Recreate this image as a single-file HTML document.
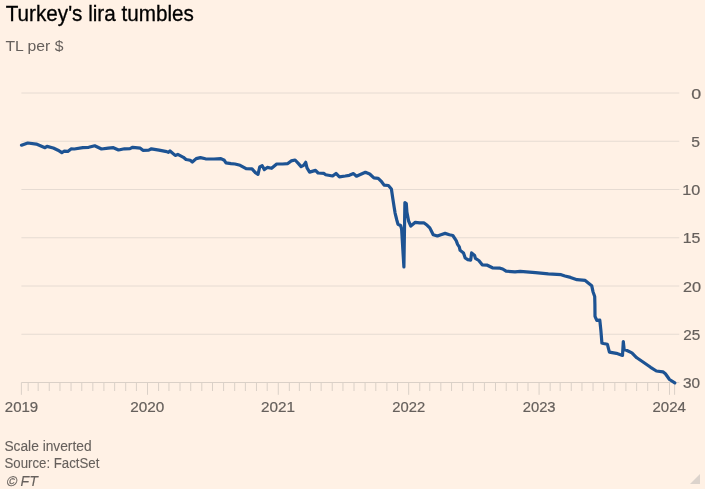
<!DOCTYPE html>
<html><head><meta charset="utf-8"><style>
html,body{margin:0;padding:0;background:#fff1e5;}
body{width:705px;height:489px;overflow:hidden;position:relative;}
svg{position:absolute;left:0;top:0;will-change:transform;}
text{font-family:"Liberation Sans",sans-serif;}
</style></head><body>
<svg width="705" height="489" viewBox="0 0 705 489">
<rect width="705" height="489" fill="#fff1e5"/>
<g stroke="#e6dbd2" stroke-width="1" fill="none"><line x1="21.4" y1="93.00" x2="679.3" y2="93.00"/><line x1="21.4" y1="141.25" x2="679.3" y2="141.25"/><line x1="21.4" y1="189.50" x2="679.3" y2="189.50"/><line x1="21.4" y1="237.75" x2="679.3" y2="237.75"/><line x1="21.4" y1="286.00" x2="679.3" y2="286.00"/><line x1="21.4" y1="334.25" x2="679.3" y2="334.25"/></g>
<g stroke="#dad0c7" stroke-width="1" fill="none"><line x1="21.4" y1="382.5" x2="679.3" y2="382.5"/><line x1="28.17" y1="382.5" x2="28.17" y2="391.0"/><line x1="38.17" y1="382.5" x2="38.17" y2="391.0"/><line x1="49.25" y1="382.5" x2="49.25" y2="391.0"/><line x1="59.96" y1="382.5" x2="59.96" y2="391.0"/><line x1="71.04" y1="382.5" x2="71.04" y2="391.0"/><line x1="81.76" y1="382.5" x2="81.76" y2="391.0"/><line x1="92.83" y1="382.5" x2="92.83" y2="391.0"/><line x1="103.91" y1="382.5" x2="103.91" y2="391.0"/><line x1="114.63" y1="382.5" x2="114.63" y2="391.0"/><line x1="125.71" y1="382.5" x2="125.71" y2="391.0"/><line x1="136.42" y1="382.5" x2="136.42" y2="391.0"/><line x1="147.50" y1="382.5" x2="147.50" y2="394.8"/><line x1="158.58" y1="382.5" x2="158.58" y2="391.0"/><line x1="168.94" y1="382.5" x2="168.94" y2="391.0"/><line x1="180.01" y1="382.5" x2="180.01" y2="391.0"/><line x1="190.73" y1="382.5" x2="190.73" y2="391.0"/><line x1="201.81" y1="382.5" x2="201.81" y2="391.0"/><line x1="212.53" y1="382.5" x2="212.53" y2="391.0"/><line x1="223.60" y1="382.5" x2="223.60" y2="391.0"/><line x1="234.68" y1="382.5" x2="234.68" y2="391.0"/><line x1="245.40" y1="382.5" x2="245.40" y2="391.0"/><line x1="256.47" y1="382.5" x2="256.47" y2="391.0"/><line x1="267.19" y1="382.5" x2="267.19" y2="391.0"/><line x1="278.27" y1="382.5" x2="278.27" y2="394.8"/><line x1="289.34" y1="382.5" x2="289.34" y2="391.0"/><line x1="299.35" y1="382.5" x2="299.35" y2="391.0"/><line x1="310.42" y1="382.5" x2="310.42" y2="391.0"/><line x1="321.14" y1="382.5" x2="321.14" y2="391.0"/><line x1="332.22" y1="382.5" x2="332.22" y2="391.0"/><line x1="342.94" y1="382.5" x2="342.94" y2="391.0"/><line x1="354.01" y1="382.5" x2="354.01" y2="391.0"/><line x1="365.09" y1="382.5" x2="365.09" y2="391.0"/><line x1="375.81" y1="382.5" x2="375.81" y2="391.0"/><line x1="386.88" y1="382.5" x2="386.88" y2="391.0"/><line x1="397.60" y1="382.5" x2="397.60" y2="391.0"/><line x1="408.68" y1="382.5" x2="408.68" y2="394.8"/><line x1="419.75" y1="382.5" x2="419.75" y2="391.0"/><line x1="429.76" y1="382.5" x2="429.76" y2="391.0"/><line x1="440.83" y1="382.5" x2="440.83" y2="391.0"/><line x1="451.55" y1="382.5" x2="451.55" y2="391.0"/><line x1="462.63" y1="382.5" x2="462.63" y2="391.0"/><line x1="473.35" y1="382.5" x2="473.35" y2="391.0"/><line x1="484.42" y1="382.5" x2="484.42" y2="391.0"/><line x1="495.50" y1="382.5" x2="495.50" y2="391.0"/><line x1="506.22" y1="382.5" x2="506.22" y2="391.0"/><line x1="517.29" y1="382.5" x2="517.29" y2="391.0"/><line x1="528.01" y1="382.5" x2="528.01" y2="391.0"/><line x1="539.09" y1="382.5" x2="539.09" y2="394.8"/><line x1="550.17" y1="382.5" x2="550.17" y2="391.0"/><line x1="560.17" y1="382.5" x2="560.17" y2="391.0"/><line x1="571.25" y1="382.5" x2="571.25" y2="391.0"/><line x1="581.96" y1="382.5" x2="581.96" y2="391.0"/><line x1="593.04" y1="382.5" x2="593.04" y2="391.0"/><line x1="603.76" y1="382.5" x2="603.76" y2="391.0"/><line x1="614.83" y1="382.5" x2="614.83" y2="391.0"/><line x1="625.91" y1="382.5" x2="625.91" y2="391.0"/><line x1="636.63" y1="382.5" x2="636.63" y2="391.0"/><line x1="647.71" y1="382.5" x2="647.71" y2="391.0"/><line x1="658.42" y1="382.5" x2="658.42" y2="391.0"/><line x1="669.50" y1="382.5" x2="669.50" y2="394.8"/><line x1="21.4" y1="382.5" x2="21.4" y2="394.8"/><line x1="674.6" y1="382.5" x2="674.6" y2="394.8"/></g>
<text x="5.75" y="21.00" font-size="21.6" fill="#000" textLength="188.11" lengthAdjust="spacingAndGlyphs" stroke="#000" stroke-width="0.3">Turkey's lira tumbles</text>
<text x="5.51" y="51.25" font-size="15.5" fill="#66605c" textLength="57.92" lengthAdjust="spacingAndGlyphs">TL per $</text>
<text x="4.42" y="450.60" font-size="14.7" fill="#66605c" textLength="87.16" lengthAdjust="spacingAndGlyphs" stroke="#66605c" stroke-width="0.1">Scale inverted</text>
<text x="4.47" y="467.80" font-size="14.7" fill="#66605c" textLength="94.91" lengthAdjust="spacingAndGlyphs" stroke="#66605c" stroke-width="0.1">Source: FactSet</text>
<text x="20.50" y="485.70" font-size="14.7" fill="#66605c" textLength="17.29" lengthAdjust="spacingAndGlyphs" stroke="#66605c" stroke-width="0.1" font-style="italic">FT</text>
<text x="4.84" y="411.80" font-size="14" fill="#66605c" textLength="33.37" lengthAdjust="spacingAndGlyphs" stroke="#66605c" stroke-width="0.2">2019</text>
<text x="130.32" y="411.80" font-size="14" fill="#66605c" textLength="34.07" lengthAdjust="spacingAndGlyphs" stroke="#66605c" stroke-width="0.2">2020</text>
<text x="260.94" y="411.80" font-size="14" fill="#66605c" textLength="33.99" lengthAdjust="spacingAndGlyphs" stroke="#66605c" stroke-width="0.2">2021</text>
<text x="392.39" y="411.80" font-size="14" fill="#66605c" textLength="32.87" lengthAdjust="spacingAndGlyphs" stroke="#66605c" stroke-width="0.2">2022</text>
<text x="522.68" y="411.80" font-size="14" fill="#66605c" textLength="32.92" lengthAdjust="spacingAndGlyphs" stroke="#66605c" stroke-width="0.2">2023</text>
<text x="652.49" y="411.80" font-size="14" fill="#66605c" textLength="33.42" lengthAdjust="spacingAndGlyphs" stroke="#66605c" stroke-width="0.2">2024</text>
<text x="691.18" y="98.50" font-size="14" fill="#66605c" textLength="9.93" lengthAdjust="spacingAndGlyphs" stroke="#66605c" stroke-width="0.2">0</text>
<text x="691.19" y="146.75" font-size="14" fill="#66605c" textLength="8.72" lengthAdjust="spacingAndGlyphs" stroke="#66605c" stroke-width="0.2">5</text>
<text x="682.33" y="195.00" font-size="14" fill="#66605c" textLength="18.01" lengthAdjust="spacingAndGlyphs" stroke="#66605c" stroke-width="0.2">10</text>
<text x="682.80" y="243.25" font-size="14" fill="#66605c" textLength="17.64" lengthAdjust="spacingAndGlyphs" stroke="#66605c" stroke-width="0.2">15</text>
<text x="682.97" y="291.50" font-size="14" fill="#66605c" textLength="18.14" lengthAdjust="spacingAndGlyphs" stroke="#66605c" stroke-width="0.2">20</text>
<text x="683.19" y="339.75" font-size="14" fill="#66605c" textLength="17.00" lengthAdjust="spacingAndGlyphs" stroke="#66605c" stroke-width="0.2">25</text>
<text x="683.00" y="388.00" font-size="14" fill="#66605c" textLength="17.06" lengthAdjust="spacingAndGlyphs" stroke="#66605c" stroke-width="0.2">30</text>
<g transform="translate(5.9,485.6) skewX(-12)"><text x="0" y="0" font-size="14" fill="#66605c" stroke="#66605c" stroke-width="0.2">©</text></g>
<path d="M21.5 145.2 L27.8 143 L36.3 144.1 L45 147.7 L47 146.4 L53.3 148 L58 150.2 L61.8 152.7 L64 151.2 L67.8 151.4 L71 148.9 L74.3 149 L82.8 147.7 L88.7 147.3 L94.7 145.8 L101.5 149 L108.3 148.2 L113.4 147.7 L118.5 150 L124.5 148.8 L130 148.6 L132.7 147.3 L140.3 148.2 L142.9 150.3 L148.8 150.1 L151.4 148.8 L159 150.1 L166.7 151.6 L168.4 152.4 L170 151 L175.2 155.4 L177.8 154.4 L183.4 157.3 L186 159.5 L190.2 160.3 L192.3 162 L196.2 158.6 L200.4 157.6 L205.5 158.8 L214 159 L220.9 158.6 L224.3 160.3 L226 162.9 L231 163.6 L235 164 L240.1 165.3 L246.1 168.7 L252 168.9 L255.4 172.6 L258 174.3 L259.7 167 L262.2 165.7 L264.4 169.6 L267.3 167.4 L271.6 168.3 L276.7 164 L282.7 164 L287.8 163.6 L291.2 160.9 L295.1 160 L298.5 163.6 L301.1 166.6 L303.6 165.3 L305.7 162.3 L307 167.9 L309.6 172.1 L315.5 170.4 L318.1 173 L324 173.4 L325.7 174.7 L332.6 176 L336 173.4 L339.4 176.8 L345.3 176 L349.3 175.3 L353.5 173.6 L356.5 176.2 L360.3 174.5 L365.4 172.3 L369.7 174 L373.9 177.9 L378.2 178.3 L381.6 181.7 L384.1 185.1 L388.4 185.5 L391.4 189 L392.8 198.4 L394.2 207.6 L395.1 213.1 L396.8 220 L398 224.2 L400.6 225.5 L401.6 229 L403.9 267 L404.9 202.6 L406.3 203.5 L406.9 212 L408.6 221 L410.8 226 L415.3 222.3 L419.6 222.8 L423.8 222.8 L427.2 225.3 L429.8 227.9 L431.5 231.3 L433.2 234.7 L437.4 236 L440.9 234.7 L445.1 233.4 L449.4 234.7 L452.8 235.5 L456.2 240.6 L457.6 244.4 L459.3 246.9 L460.1 250.3 L463.5 252.9 L465.2 258 L467.8 259.7 L470.7 260.1 L471.6 252.9 L474.6 255.4 L475.4 258.4 L478.8 260.5 L482.2 264.8 L487.3 265.2 L492.4 267.8 L500.1 268.2 L502.7 269 L506.1 271.2 L515 271.8 L520.2 271.3 L535.5 272.7 L548.3 273.9 L561.1 274.7 L565 276 L570.5 277.4 L577 279.7 L585.2 280.4 L588.9 283.4 L591.7 285.7 L593 291.7 L594.7 296.5 L594.9 304 L595 316.3 L596.8 320.3 L599.8 320.1 L600.9 330.6 L601.9 343 L603.4 343.5 L607.4 344.3 L609.4 352.1 L616.4 353.3 L622.5 355.4 L623.3 341.5 L624.1 349.2 L627 350.5 L631.9 352.9 L636.8 357.8 L643.4 362.3 L650.6 367.3 L656.4 371 L662.9 371.8 L665.4 373.8 L669.5 379.5 L674.8 382.8" fill="none" stroke="#1d5393" stroke-width="3.2" stroke-linejoin="round" stroke-linecap="round"/>
<path d="M690 484 L700 474 L700 484 Z" fill="#dcd3cc"/>
</svg>
</body></html>
